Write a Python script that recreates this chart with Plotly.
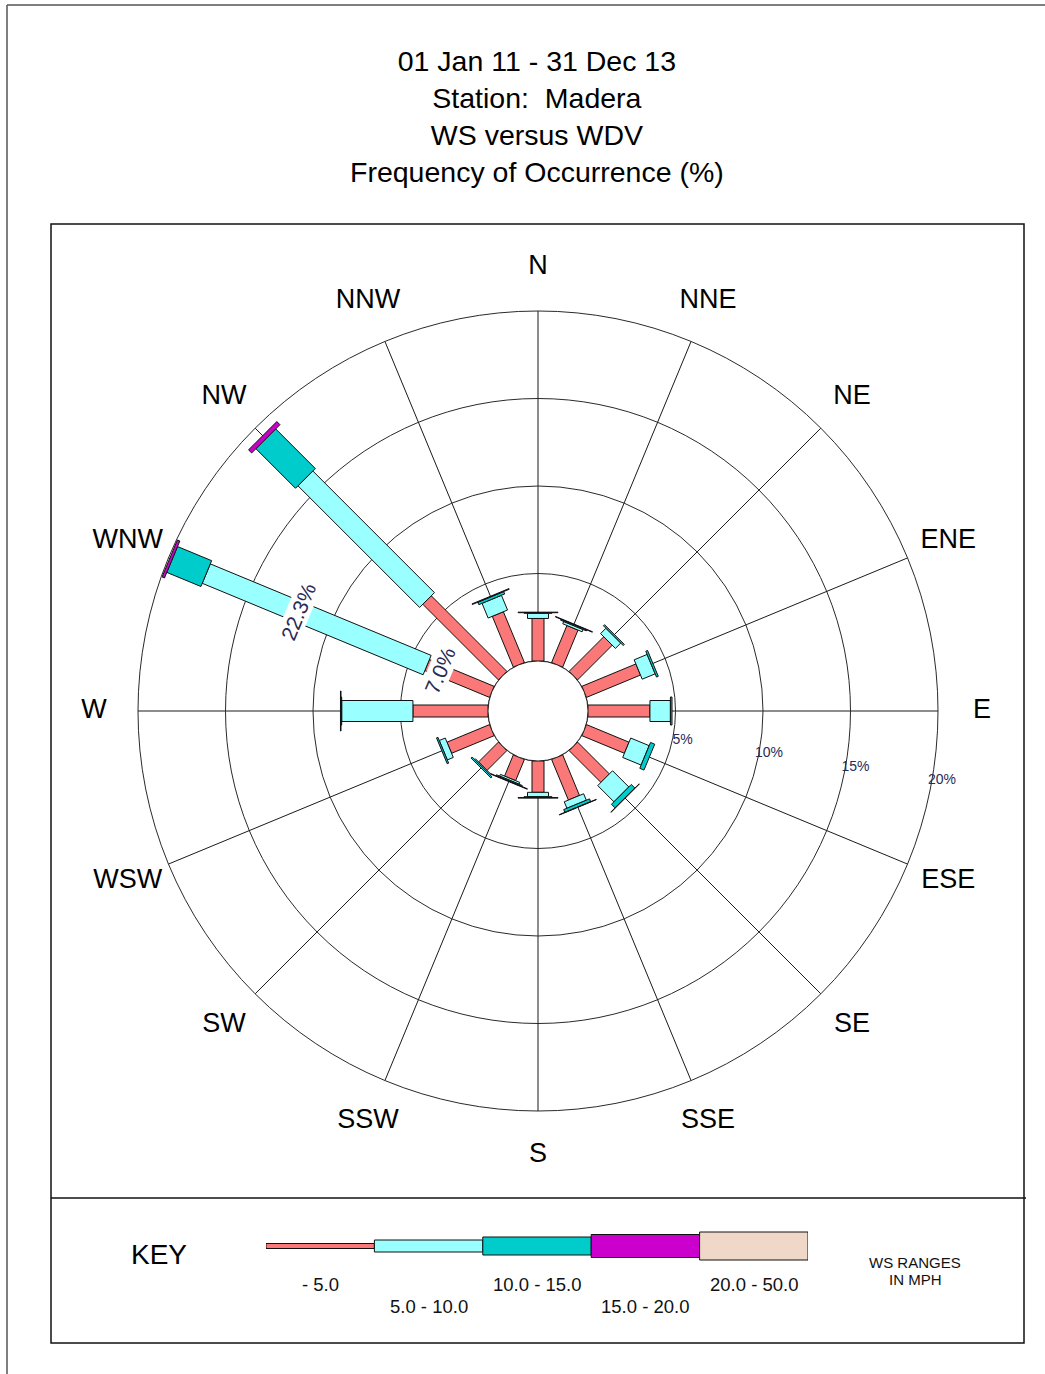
import math
import plotly.graph_objects as go

# ---------------- data ----------------
directions = ["N", "NNE", "NE", "ENE", "E", "ESE", "SE", "SSE",
              "S", "SSW", "SW", "WSW", "W", "WNW", "NW", "NNW"]
dir_angles = [i * 22.5 for i in range(16)]

speed_classes = ["- 5.0", "5.0 - 10.0", "10.0 - 15.0", "15.0 - 20.0", "20.0 - 50.0"]

# frequency of occurrence (%) per direction for each wind-speed class (mph)
freq_0_5 = [2.43, 2.29, 2.80, 3.34, 3.54, 2.63, 2.57, 2.51,
            1.79, 1.31, 1.60, 2.63, 4.29, 4.00, 6.11, 3.14]
freq_5_10 = [0.30, 0.14, 0.43, 0.80, 1.17, 1.14, 1.31, 0.40,
             0.25, 0.11, 0.06, 0.37, 4.07, 13.66, 9.83, 0.91]
freq_10_15 = [0.03, 0.06, 0.09, 0.11, 0.09, 0.26, 0.29, 0.17,
              0.05, 0.06, 0.09, 0.09, 0.04, 2.11, 3.20, 0.15]
freq_15_20 = [0.03, 0.03, 0.00, 0.00, 0.00, 0.00, 0.02, 0.02,
              0.03, 0.03, 0.00, 0.00, 0.03, 0.15, 0.25, 0.04]
freq_20_50 = [0.0] * 16

ring_ticks = [5, 10, 15, 20]
ring_tick_labels = ["5%", "10%", "15%", "20%"]

bar_labels = ["22.3%", "7.0%"]

title_lines = ["01 Jan 11 - 31 Dec 13", "Station:&nbsp; Madera",
               "WS versus WDV", "Frequency of Occurrence (%)"]

# ---------------- styles / geometry ----------------
W, H = 1045, 1374
FONT = "Liberation Sans, Arial, sans-serif"
colors = ["#FA7878", "#99FFFF", "#00CCCC", "#CC00CC", "#F0D8C8"]
bar_px_widths = [12, 21, 28, 40, 50]      # plotted bar thickness (px)
key_thickness = [5, 12, 18, 23, 28]       # key bar thickness (px)

CX, CY = 538, 711          # polar centre (px)
OUTER = 400                # outer radius (px)
HOLE = 50                  # calm circle radius (px)
LABEL_OUTER = 460          # radius of the label-only polar overlay (px)
RMAX = 20
K = (OUTER - HOLE) / RMAX  # px per percent


def px(x):
    return x / W


def py(y):
    return 1 - y / H


def rect_polar(theta, v0, v1, width_px):
    """Corners of a rectangular bar segment expressed in polar data coords."""
    d0 = HOLE + K * v0
    d1 = HOLE + K * v1
    h = width_px / 2
    rs, ts = [], []
    for d, hh in [(d0, -h), (d1, -h), (d1, h), (d0, h), (d0, -h)]:
        R = math.hypot(d, hh)
        rs.append((R - HOLE) / K)
        ts.append(theta + math.degrees(math.atan2(hh, d)))
    return rs, ts


def polar_to_paper(r, theta):
    R = HOLE + K * r
    t = math.radians(theta)
    return px(CX + R * math.sin(t)), py(CY - R * math.cos(t))


fig = go.Figure()

# calm circle outline
circ_t = [i * 2 for i in range(181)]
fig.add_trace(go.Scatterpolar(r=[0] * len(circ_t), theta=circ_t, mode="lines",
                              line=dict(color="#1a1a1a", width=1),
                              hoverinfo="skip", showlegend=False))

# stacked bars
series = [freq_0_5, freq_5_10, freq_10_15, freq_15_20, freq_20_50]
for i, th in enumerate(dir_angles):
    cum = 0.0
    for s, vals in enumerate(series):
        v = vals[i]
        if v <= 0:
            continue
        rs, ts = rect_polar(th, cum, cum + v, bar_px_widths[s])
        fig.add_trace(go.Scatterpolar(
            r=rs, theta=ts, mode="lines", fill="toself",
            fillcolor=colors[s], line=dict(color="#111111", width=1),
            name=speed_classes[s], showlegend=False,
            hovertext=f"{directions[i]} {speed_classes[s]}: {v}%", hoverinfo="text"))
        cum += v

# direction labels (label-only overlay polar, same centre)
fig.add_trace(go.Scatterpolar(
    r=[444 / LABEL_OUTER] * 16, theta=dir_angles, mode="text", text=directions,
    textfont=dict(family=FONT, size=27, color="#000000"),
    textposition="middle center", cliponaxis=False, hoverinfo="skip",
    showlegend=False, subplot="polar2"))

# ring labels
fig.add_trace(go.Scatterpolar(
    r=[(HOLE + K * (t + 0.5)) / LABEL_OUTER for t in ring_ticks],
    theta=[98.8] * len(ring_ticks), mode="text",
    text=ring_tick_labels, textposition="bottom center",
    textfont=dict(family=FONT, size=14, color="#2a2a55"),
    cliponaxis=False, hoverinfo="skip", showlegend=False, subplot="polar2"))

# key bars
fig.add_trace(go.Bar(
    orientation="h", x=[1] * 5, y=[0] * 5, base=list(range(5)),
    width=key_thickness, marker=dict(color=colors, line=dict(color="#111111", width=1)),
    hovertext=speed_classes, hoverinfo="text", showlegend=False))

fig.update_layout(
    width=W, height=H,
    margin=dict(l=0, r=0, t=0, b=0),
    paper_bgcolor="white", plot_bgcolor="white",
    showlegend=False,
    polar=dict(
        domain=dict(x=[px(CX - OUTER), px(CX + OUTER)], y=[py(CY + OUTER), py(CY - OUTER)]),
        bgcolor="white",
        hole=HOLE / OUTER,
        radialaxis=dict(range=[0, RMAX], tickvals=ring_ticks, showticklabels=False,
                        ticks="", showline=False, gridcolor="#2a2a2a", gridwidth=1,
                        layer="below traces"),
        angularaxis=dict(direction="clockwise", rotation=90, thetaunit="degrees",
                         tickmode="array", tickvals=dir_angles, showticklabels=False,
                         ticks="", showline=True, linecolor="#2a2a2a", linewidth=1,
                         gridcolor="#1a1a1a", gridwidth=1, layer="below traces"),
    ),
    polar2=dict(
        domain=dict(x=[px(CX - LABEL_OUTER), px(CX + LABEL_OUTER)],
                    y=[py(CY + LABEL_OUTER), py(CY - LABEL_OUTER)]),
        bgcolor="rgba(0,0,0,0)",
        radialaxis=dict(range=[0, 1], visible=False),
        angularaxis=dict(direction="clockwise", rotation=90, thetaunit="degrees",
                         visible=False),
    ),
    xaxis=dict(domain=[px(266), px(808)], range=[0, 5], visible=False, fixedrange=True),
    yaxis=dict(domain=[py(1262), py(1230)], range=[-16, 16], visible=False, fixedrange=True),
)

annotations = []
# title
annotations.append(dict(text="<br>".join(title_lines), x=px(537), y=py(116.5),
                        xref="paper", yref="paper", xanchor="center", yanchor="middle",
                        showarrow=False, font=dict(family=FONT, size=28.5, color="#000000")))

# bar labels with white background (written across the WNW bar)
wnw = directions.index("WNW")
for lab, rr in zip(bar_labels, [11.94, 3.2]):
    x, y = polar_to_paper(rr, dir_angles[wnw])
    annotations.append(dict(text=lab, x=x, y=y, xref="paper", yref="paper",
                            xanchor="center", yanchor="middle", showarrow=False,
                            textangle=dir_angles[wnw] - 360,
                            bgcolor="white", borderpad=0,
                            font=dict(family=FONT, size=21, color="#2a2a55")))

# key texts
annotations.append(dict(text="KEY", x=px(159), y=py(1254), xref="paper", yref="paper",
                        xanchor="center", yanchor="middle", showarrow=False,
                        font=dict(family=FONT, size=28, color="#000000")))
for j, lab in enumerate(speed_classes):
    annotations.append(dict(text=lab, x=j + 0.5, xref="x",
                            y=py(1284 if j % 2 == 0 else 1306), yref="paper",
                            xanchor="center", yanchor="middle", showarrow=False,
                            font=dict(family=FONT, size=18.5, color="#111111")))
annotations.append(dict(text="WS RANGES", x=px(915), y=py(1262), xref="paper", yref="paper",
                        xanchor="center", yanchor="middle", showarrow=False,
                        font=dict(family=FONT, size=15, color="#111111")))
annotations.append(dict(text="IN MPH", x=px(915), y=py(1279), xref="paper", yref="paper",
                        xanchor="center", yanchor="middle", showarrow=False,
                        font=dict(family=FONT, size=15, color="#111111")))

shapes = [
    dict(type="line", x0=px(7), y0=py(5), x1=px(1045), y1=py(5), xref="paper", yref="paper",
         line=dict(color="#555555", width=1.5)),
    dict(type="line", x0=px(7), y0=py(5), x1=px(7), y1=py(1374), xref="paper", yref="paper",
         line=dict(color="#555555", width=1.5)),
    dict(type="rect", x0=px(51), y0=py(224), x1=px(1024), y1=py(1343), xref="paper", yref="paper",
         line=dict(color="#111111", width=1.5)),
    dict(type="line", x0=px(51), y0=py(1198), x1=px(1026), y1=py(1198), xref="paper", yref="paper",
         line=dict(color="#111111", width=1.5)),
]

fig.update_layout(annotations=annotations, shapes=shapes)
fig.write_html("out.html", config={"displayModeBar": False},
               post_script="document.body.style.margin='0';")
